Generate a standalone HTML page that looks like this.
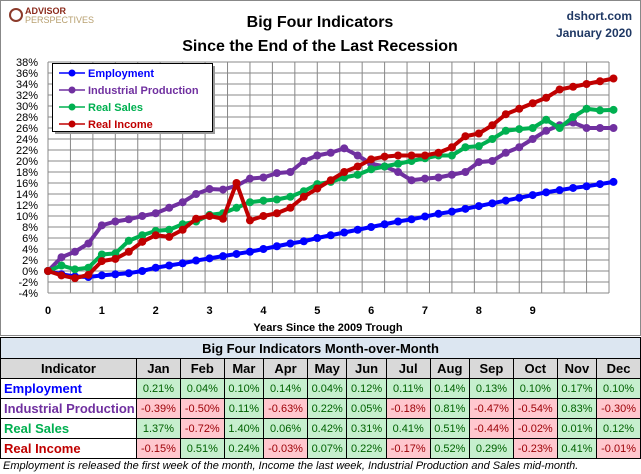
<!DOCTYPE html>
<html><head><meta charset="utf-8">
<style>
body{margin:0;width:641px;height:474px;overflow:hidden;background:#fff;font-family:"Liberation Sans",sans-serif;}
#wrap{position:relative;width:641px;height:474px;}
table{border-collapse:collapse;position:absolute;left:0;top:337px;width:641px;font-size:11px;}
td,th{border:1px solid #000;padding:0;height:19px;text-align:center;}
th{font-size:13px;}
.g{background:#c6efce;color:#006100;}
.r{background:#ffc7ce;color:#9c0006;}
.ind{text-align:left;font-weight:bold;font-size:13px;padding-left:3px;}
</style></head><body><div id="wrap">
<svg id="chart" width="641" height="337" style="position:absolute;left:0;top:0"></svg>
<table>
<tr><th colspan="13" style="background:#dce6f1;height:20px">Big Four Indicators Month-over-Month</th></tr>
<tr style="background:#d9d9d9"><th style="width:135px">Indicator</th><th>Jan</th><th>Feb</th><th>Mar</th><th>Apr</th><th>May</th><th>Jun</th><th>Jul</th><th>Aug</th><th>Sep</th><th>Oct</th><th>Nov</th><th>Dec</th></tr>
<tr><td class="ind" style="color:#0000ff">Employment</td><td class="g">0.21%</td><td class="g">0.04%</td><td class="g">0.10%</td><td class="g">0.14%</td><td class="g">0.04%</td><td class="g">0.12%</td><td class="g">0.11%</td><td class="g">0.14%</td><td class="g">0.13%</td><td class="g">0.10%</td><td class="g">0.17%</td><td class="g">0.10%</td></tr>
<tr><td class="ind" style="color:#7030a0">Industrial Production</td><td class="r">-0.39%</td><td class="r">-0.50%</td><td class="g">0.11%</td><td class="r">-0.63%</td><td class="g">0.22%</td><td class="g">0.05%</td><td class="r">-0.18%</td><td class="g">0.81%</td><td class="r">-0.47%</td><td class="r">-0.54%</td><td class="g">0.83%</td><td class="r">-0.30%</td></tr>
<tr><td class="ind" style="color:#00b050">Real Sales</td><td class="g">1.37%</td><td class="r">-0.72%</td><td class="g">1.40%</td><td class="g">0.06%</td><td class="g">0.42%</td><td class="g">0.31%</td><td class="g">0.41%</td><td class="g">0.51%</td><td class="r">-0.44%</td><td class="r">-0.02%</td><td class="g">0.01%</td><td class="g">0.12%</td></tr>
<tr><td class="ind" style="color:#c00000">Real Income</td><td class="r">-0.15%</td><td class="g">0.51%</td><td class="g">0.24%</td><td class="r">-0.03%</td><td class="g">0.07%</td><td class="g">0.22%</td><td class="r">-0.17%</td><td class="g">0.52%</td><td class="g">0.29%</td><td class="r">-0.23%</td><td class="g">0.41%</td><td class="r">-0.01%</td></tr>
</table>
<div style="position:absolute;left:3px;top:460px;font-size:11px;font-style:italic;white-space:nowrap">Employment is released the first week of the month, Income the last week, Industrial Production and Sales mid-month.</div>
</div>
<script>
const months=[0,3,6,9,12,15,18,21,24,27,30,33,36,39,42,45,48,51,54,57,60,63,66,69,72,75,78,81,84,87,90,93,96,99,102,105,108,111,114,117,120,123,126];
const employment=[0,-0.6,-1.0,-1.1,-0.8,-0.6,-0.4,0,0.6,1.0,1.4,1.9,2.3,2.7,3.1,3.5,4.0,4.5,5.0,5.4,6.0,6.5,7.0,7.5,8.0,8.5,9.0,9.4,9.9,10.4,10.8,11.3,11.8,12.3,12.8,13.3,13.8,14.3,14.7,15.1,15.4,15.8,16.2];
const industrial=[0,2.5,3.5,5.0,8.3,9.0,9.4,10.0,10.5,11.5,12.5,14.0,14.9,14.8,15.5,16.8,17.0,17.8,18.0,20.0,21.0,21.5,22.3,21.0,19.5,19.0,18.0,16.5,16.8,17.0,17.5,18.0,19.8,20.0,21.5,22.5,24.0,25.5,26.5,27.0,26.0,26.0,26.0];
const sales=[0,1.0,0.3,0.6,3.0,3.2,5.5,6.5,7.3,7.5,8.5,9.0,10.2,10.5,11.5,12.5,12.8,13.0,13.5,14.5,15.8,16.2,17.0,17.5,18.5,19.0,19.5,20.0,20.5,21.0,21.0,22.5,22.7,24.0,25.5,25.8,26.0,27.5,26.0,28.0,29.5,29.2,29.3];
const income=[0,-0.8,-1.3,-0.7,1.8,2.2,3.5,5.3,6.5,6.2,7.5,9.5,10.0,9.5,16.0,9.2,10.0,10.5,11.5,13.5,15.0,16.5,18.0,19.0,20.3,20.8,21.0,21.0,21.0,21.5,22.5,24.5,25.0,26.5,28.5,29.5,30.5,31.5,33.0,33.5,34.0,34.5,35.0];
const yTicks=[-4,-2,0,2,4,6,8,10,12,14,16,18,20,22,24,26,28,30,32,34,36,38];
const xTicks=[0,1,2,3,4,5,6,7,8,9];
const seriesNames=["Employment","Industrial Production","Real Sales","Real Income"];
const seriesColors=["#0000ff","#7030a0","#00b050","#c00000"];

const svg=document.getElementById('chart');
const NS='http://www.w3.org/2000/svg';
const X0=48,X1=609,Y0=62,Y1=293;
function xm(m){return X0+m*(X1-X0)/125;}
function yv(v){return Y1-(v+4)*(Y1-Y0)/42;}
function mk(t,a,txt){const e=document.createElementNS(NS,t);for(const k in a)e.setAttribute(k,a[k]);if(txt!==undefined)e.textContent=txt;svg.appendChild(e);return e;}
let e=mk('rect',{x:0.5,y:0.5,width:640,height:335,fill:'#fff',stroke:'#888'});


// grid
for(let m=0;m<=125;m+=5){e=mk('line',{x1:xm(m),x2:xm(m),y1:Y0,y2:Y1,stroke:'#888','stroke-width':1});

}
yTicks.forEach(v=>{e=mk('line',{x1:X0,x2:X1,y1:yv(v),y2:yv(v),stroke:'#888','stroke-width':1});


e=mk('text',{x:38,y:yv(v)+4,'text-anchor':'end','font-size':11},v+'%');

});
xTicks.forEach(t=>{e=mk('text',{x:xm(t*12),y:314,'text-anchor':'middle','font-size':11,'font-weight':'bold'},t);

});
e=mk('text',{x:328,y:331,'text-anchor':'middle','font-size':11,'font-weight':'bold'},'Years Since the 2009 Trough');


// series
const allData=[employment,industrial,sales,income];
allData.forEach((d,i)=>{
 const pts=d.map((v,j)=>xm(months[j])+','+yv(v)).join(' ');
 e=mk('polyline',{points:pts,fill:'none',stroke:seriesColors[i],'stroke-width':4,'stroke-linejoin':'round'});
 
 
 d.forEach((v,j)=>{e=mk('circle',{cx:xm(months[j]),cy:yv(v),r:4,fill:seriesColors[i]});
 
 });
});
// legend
e=mk('rect',{x:55,y:66,width:160,height:68,fill:'#999'});


e=mk('rect',{x:52.5,y:63.5,width:160,height:68,fill:'#fff',stroke:'#000'});


seriesNames.forEach((n,i)=>{const y=73+i*17;
 e=mk('line',{x1:59,x2:85,y1:y,y2:y,stroke:seriesColors[i],'stroke-width':1.5});
 
 
 e=mk('circle',{cx:72,cy:y,r:3.5,fill:seriesColors[i]});
 
 
 e=mk('text',{x:88,y:y+4,'font-size':11,'font-weight':'bold',fill:seriesColors[i]},n);
 
 });
// titles
e=mk('text',{x:320,y:27,'text-anchor':'middle','font-size':16,'font-weight':'bold'},'Big Four Indicators');


e=mk('text',{x:320,y:51,'text-anchor':'middle','font-size':16,'font-weight':'bold'},'Since the End of the Last Recession');


e=mk('text',{x:632,y:20,'text-anchor':'end','font-size':12,'font-weight':'bold',fill:'#1f3864'},'dshort.com');


e=mk('text',{x:632,y:37,'text-anchor':'end','font-size':12,'font-weight':'bold',fill:'#1f3864'},'January 2020');


e=mk('circle',{cx:16,cy:15,r:6,fill:'none',stroke:'#8b3a2b','stroke-width':2});


e=mk('text',{x:25,y:14,'font-size':9,'font-weight':'bold',fill:'#8b2a1b'},'ADVISOR');


e=mk('text',{x:25,y:23,'font-size':9,fill:'#b8a070'},'PERSPECTIVES');


</script>
</body></html>
